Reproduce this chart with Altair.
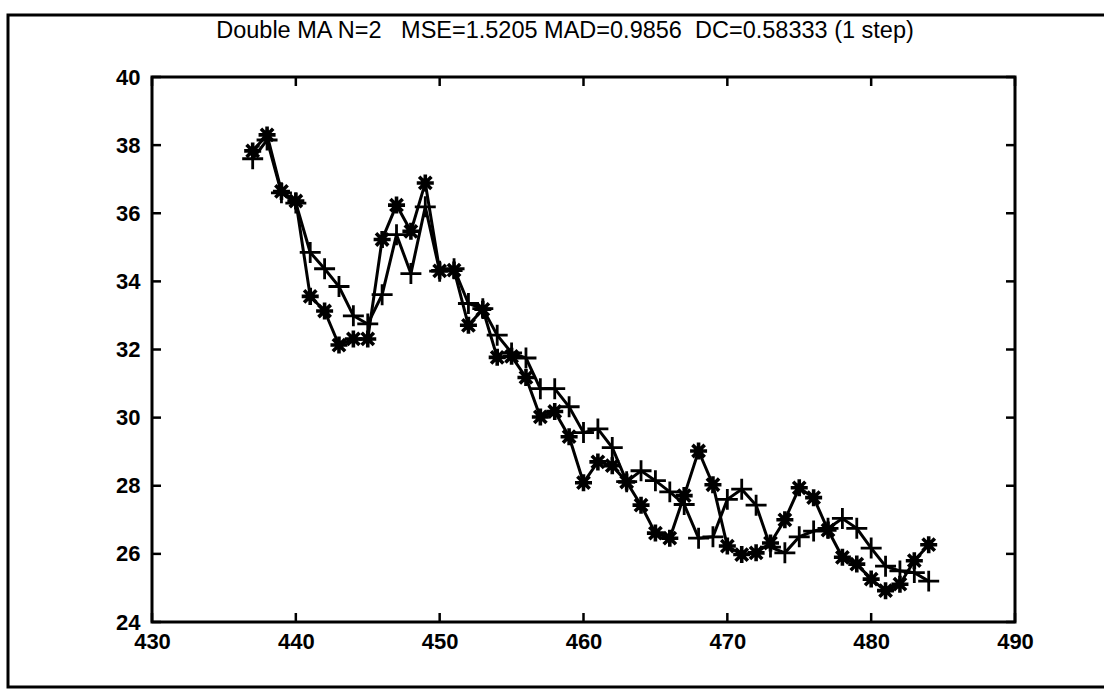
import altair as alt
import pandas as pd

# ---- data ----
x_vals = list(range(437, 485))
actual = [37.83, 38.30, 36.64, 36.36, 33.56, 33.13, 32.13, 32.31, 32.31, 35.23,
          36.24, 35.47, 36.89, 34.31, 34.33, 32.71, 33.18, 31.77, 31.80, 31.18,
          30.02, 30.18, 29.44, 28.09, 28.70, 28.59, 28.11, 27.43, 26.61, 26.46,
          27.71, 29.02, 28.03, 26.23, 25.98, 26.03, 26.32, 27.00, 27.94, 27.65,
          26.70, 25.90, 25.70, 25.26, 24.92, 25.11, 25.80, 26.27]
forecast = [37.60, 38.15, 36.60, 36.30, 34.85, 34.37, 33.85, 32.99, 32.75, 33.61,
            35.37, 34.23, 36.19, 34.30, 34.37, 33.35, 33.20, 32.42, 31.90, 31.75,
            30.85, 30.85, 30.32, 29.56, 29.67, 29.12, 28.12, 28.44, 28.15, 27.82,
            27.45, 26.46, 26.50, 27.60, 27.90, 27.43, 26.20, 26.03, 26.50, 26.67,
            26.75, 27.04, 26.75, 26.17, 25.64, 25.50, 25.45, 25.20]
x_ticks = [430, 440, 450, 460, 470, 480, 490]
y_ticks = [24, 26, 28, 30, 32, 34, 36, 38, 40]
title_text = ("Double MA N=2\u00a0\u00a0\u00a0MSE=1.5205 MAD=0.9856"
              "\u00a0\u00a0DC=0.58333 (1 step)")

W, H = 863, 545
FONT = "Liberation Sans"
TICK = 9

df = pd.DataFrame({"x": x_vals, "actual": actual, "forecast": forecast})
xdf = pd.DataFrame({"v": x_ticks})
ydf = pd.DataFrame({"v": y_ticks})
one = pd.DataFrame({"a": [0]})

xscale = alt.Scale(domain=[430, 490], nice=False, zero=False)
yscale = alt.Scale(domain=[24, 40], nice=False, zero=False)
xaxis = alt.Axis(values=x_ticks, title=None, ticks=False, domain=False, grid=False,
                 labelFontSize=22, labelFont=FONT, labelFontWeight="bold",
                 labelColor="black", labelPadding=9, labelFlush=False)
yaxis = alt.Axis(values=y_ticks, title=None, ticks=False, domain=False, grid=False,
                 labelFontSize=22, labelFont=FONT, labelFontWeight="bold",
                 labelColor="black", labelPadding=12, labelFlush=False)

star_path = "M-1,0L1,0M0,-1L0,1M-0.72,-0.72L0.72,0.72M-0.72,0.72L0.72,-0.72"
plus_path = "M-1,0L1,0M0,-1L0,1"

frame = alt.Chart(one).mark_rect(filled=False, stroke="black", strokeWidth=3,
                                 clip=False).encode(
    x=alt.value(-144), x2=alt.value(960), y=alt.value(-62), y2=alt.value(610))

title = alt.Chart(one).mark_text(text=title_text, font=FONT, fontSize=23.5,
                                 align="center", baseline="middle",
                                 color="black").encode(
    x=alt.value(413), y=alt.value(-46))

yt_left = alt.Chart(ydf).mark_rule(color="black", strokeWidth=2.5).encode(
    y=alt.Y("v:Q", scale=yscale, axis=yaxis), x=alt.value(0), x2=alt.value(TICK))
yt_right = alt.Chart(ydf).mark_rule(color="black", strokeWidth=2.5).encode(
    y=alt.Y("v:Q", scale=yscale, axis=yaxis), x=alt.value(W - TICK), x2=alt.value(W))
xt_bot = alt.Chart(xdf).mark_rule(color="black", strokeWidth=2.5).encode(
    x=alt.X("v:Q", scale=xscale, axis=xaxis), y=alt.value(H), y2=alt.value(H - TICK))
xt_top = alt.Chart(xdf).mark_rule(color="black", strokeWidth=2.5).encode(
    x=alt.X("v:Q", scale=xscale, axis=xaxis), y=alt.value(0), y2=alt.value(TICK))

base = alt.Chart(df).encode(x=alt.X("x:Q", scale=xscale, axis=xaxis))

line_a = base.mark_line(color="black", strokeWidth=3).encode(
    y=alt.Y("actual:Q", scale=yscale, axis=yaxis))
line_f = base.mark_line(color="black", strokeWidth=3).encode(
    y=alt.Y("forecast:Q", scale=yscale, axis=yaxis))
pts_a = base.mark_point(shape=star_path, filled=False, stroke="black",
                        strokeWidth=3.6, size=290, opacity=1).encode(
    y=alt.Y("actual:Q", scale=yscale, axis=yaxis))
pts_f = base.mark_point(shape=plus_path, filled=False, stroke="black",
                        strokeWidth=2.8, size=440, opacity=1).encode(
    y=alt.Y("forecast:Q", scale=yscale, axis=yaxis))

chart = alt.layer(frame, title, yt_left, yt_right, xt_bot, xt_top,
                  line_f, line_a, pts_f, pts_a).properties(
    width=W, height=H,
    autosize=alt.AutoSizeParams(type="none"),
    padding={"left": 152, "top": 77, "right": 1104 - 152 - W, "bottom": 692 - 77 - H},
    background="white",
).configure_view(stroke="black", strokeWidth=3)

chart.save("out.html", embed_options={"renderer": "svg", "actions": False})
